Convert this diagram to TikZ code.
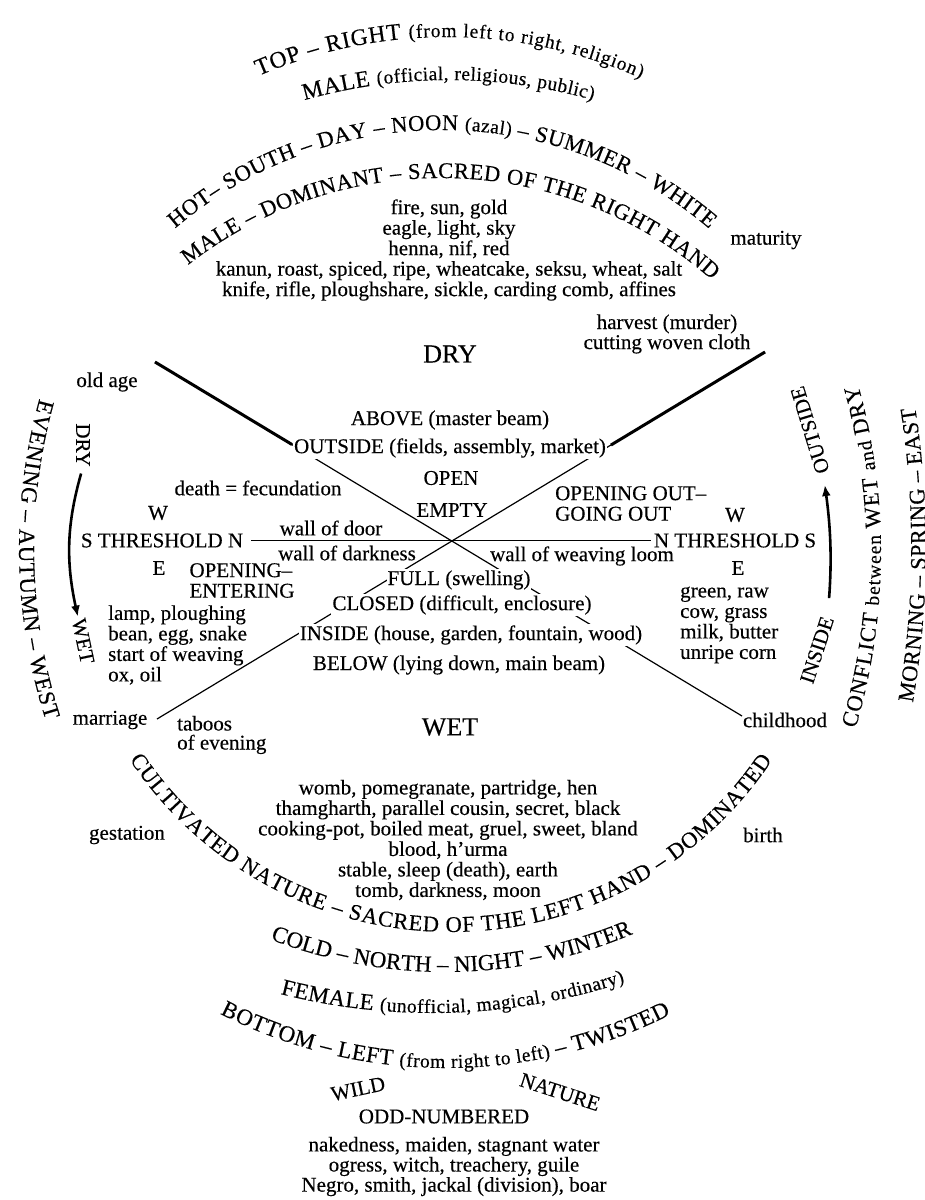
\documentclass[tikz,border=0pt]{standalone}
\usepackage{fontspec}
\setmainfont{Liberation Serif}[FakeBold=0.3]
\usetikzlibrary{decorations.text,arrows.meta}
\newcommand\txtfont{\fontsize{21}{20.5}\selectfont}
\newcommand\arcfont{\fontsize{22.5}{22.5}\selectfont}
\newcommand\midarc{\fontsize{23}{23}\selectfont}
\newcommand\toparc{\fontsize{23.5}{23.5}\selectfont}
\newcommand\smallarc{\fontsize{19.5}{19.5}\selectfont}
\newcommand\bigfont{\fontsize{26}{26}\selectfont}
\tikzstyle{txt}=[font=\txtfont, inner sep=0pt]
\tikzstyle{bigcap}=[font=\bigfont, inner sep=0pt]
\tikzstyle{whitebox}=[fill=white, inner sep=1pt]
\tikzstyle{beam}=[draw=black, line width=1.2pt]
\tikzstyle{beambold}=[draw=black, line width=3pt]
\tikzstyle{cyclearrow}=[draw=black, line width=2.6pt, -{Latex[length=11pt,width=9pt]}]
\tikzstyle{arctext}=[decorate, decoration={text along path, text align={fit to path}}]

\begin{document}
\begin{tikzpicture}[x=1pt, y=1pt]
	\useasboundingbox (0,0) rectangle (925,-1200);
	\fill[white] (0,0) rectangle (925,-1200);
	\path[arctext, decoration={text={|\toparc|TOP – RIGHT |\smallarc|(from left to right, religion)}}] ([shift={(447,-513)}]113.3:476) arc[start angle=113.3, end angle=66, radius=476];
	\path[arctext, decoration={text={|\toparc|MALE |\smallarc|(official, religious, public)}}] ([shift={(449,-608)}]105.9:528) arc[start angle=105.9, end angle=74.2, radius=528];
	\path[arctext, decoration={text={|\arcfont|HOT– SOUTH – DAY – NOON |\smallarc|(azal) |\arcfont|– SUMMER – WHITE}}] ([shift={(442,-541)}]130.5:411) arc[start angle=130.5, end angle=49.5, radius=411];
	\path[arctext, decoration={text={|\arcfont|MALE – DOMINANT – SACRED OF THE RIGHT HAND}}] ([shift={(441,-589)}]128:411) arc[start angle=128, end angle=48.8, radius=411];
	\path[arctext, decoration={text={|\arcfont|CULTIVATED NATURE – SACRED OF THE LEFT HAND – DOMINATED}}] ([shift={(451,-546)}]213.6:386) arc[start angle=213.6, end angle=326.3, radius=386];
	\path[arctext, decoration={text={|\midarc|COLD – NORTH – NIGHT – WINTER}}] ([shift={(445,-489)}]248.8:483) arc[start angle=248.8, end angle=292.6, radius=483];
	\path[arctext, decoration={text={|\midarc|FEMALE |\smallarc|(unofficial, magical, ordinary)}}] ([shift={(432,-399)}]255.7:614) arc[start angle=255.7, end angle=288.3, radius=614];
	\path[arctext, decoration={text={|\midarc|BOTTOM – LEFT |\smallarc|(from right to left) |\midarc|– TWISTED}}] ([shift={(446,-570)}]243:498) arc[start angle=243, end angle=296.8, radius=498];
	\path[arctext, decoration={text={|\midarc|EVENING – AUTUMN – WEST}}] ([shift={(582,-549)}]164.5:563) arc[start angle=164.5, end angle=197.7, radius=563];
	\path[arctext, decoration={text={|\arcfont|CONFLICT |\smallarc|between |\arcfont|WET |\smallarc|and |\arcfont|DRY}}] ([shift={(256,-552)}]-16.4:625) arc[start angle=-16.4, end angle=15.5, radius=625];
	\path[arctext, decoration={text={|\arcfont|MORNING – SPRING – EAST}}] ([shift={(7,-548)}]-9.7:919) arc[start angle=-9.7, end angle=8.8, radius=919];

	\coordinate (dTL) at (155,-362);
	\coordinate (dBR) at (742,-716);
	\coordinate (dTR) at (765,-352);
	\coordinate (dBL) at (157,-719);
	\coordinate (kTL) at (292,-444.5);
	\coordinate (kTR) at (611,-445);
	\path[beam] (dTL) -- (dBR);
	\path[beam] (dTR) -- (dBL);
	\path[beambold] (dTL) -- (kTL);
	\path[beambold] (dTR) -- (kTR);

	\node[txt, align=center] (dryList) at (449,-250) {fire, sun, gold\\eagle, light, sky\\henna, nif, red\\kanun, roast, spiced, ripe, wheatcake, seksu, wheat, salt\\knife, rifle, ploughshare, sickle, carding comb, affines};
	\node[txt] (maturity) at (766,-240) {maturity};
	\node[txt, align=center, font=\fontsize{21}{18}\selectfont] (harvest) at (667,-334) {harvest (murder)\\cutting woven cloth};
	\node[bigcap] (dryC) at (450,-354) {DRY};
	\node[txt] (oldAge) at (107,-382) {old age};
	\node[txt] (above) at (450,-420) {ABOVE (master beam)};
	\node[txt, whitebox] (outside) at (450,-448) {OUTSIDE (fields, assembly, market)};
	\node[txt] (open) at (451,-478) {OPEN};
	\node[txt] (empty) at (452,-510) {EMPTY};
	\node[txt] (death) at (258,-488) {death = fecundation};
	\node[txt] (wL) at (158,-513) {W};
	\node[txt, inner xsep=8pt] (thrL) at (162,-540.5) {S THRESHOLD N};
	\node[txt] (eL) at (159,-568) {E};
	\node[txt] (wallDoor) at (331,-528) {wall of door};
	\node[txt] (wallDark) at (347,-553) {wall of darkness};
	\node[txt, align=left] (entering) at (242,-580.5) {OPENING–\\ENTERING};
	\node[txt, align=left, anchor=west] (lampList) at (108,-645) {lamp, ploughing\\bean, egg, snake\\start of weaving\\ox, oil};
	\node[txt] (marriage) at (110,-720) {marriage};
	\node[txt, align=left, anchor=west, font=\fontsize{21}{19}\selectfont] (taboos) at (177,-735) {taboos\\of evening};
	\node[txt, whitebox] (full) at (459,-580) {FULL (swelling)};
	\node[txt, whitebox] (closed) at (462,-605) {CLOSED (difficult, enclosure)};
	\node[txt, whitebox] (insideC) at (471,-635) {INSIDE (house, garden, fountain, wood)};
	\node[txt] (below) at (459,-665) {BELOW (lying down, main beam)};
	\node[txt, align=left, anchor=west] (goingOut) at (555,-503.5) {OPENING OUT–\\GOING OUT};
	\node[txt] (wR) at (735,-515) {W};
	\node[txt, inner xsep=3pt] (thrR) at (735,-540.5) {N THRESHOLD S};
	\node[txt] (eR) at (738,-568) {E};
	\node[txt] (wallLoom) at (582,-556) {wall of weaving loom};
	\node[txt, align=left, anchor=west] (greenList) at (680,-625) {green, raw\\cow, grass\\milk, butter\\unripe corn};
	\node[txt] (childhood) at (785,-720) {childhood};
	\node[bigcap] (wetC) at (450,-727) {WET};
	\node[txt] (gestation) at (127,-835) {gestation};
	\node[txt] (birth) at (763,-835) {birth};
	\node[txt, align=center] (wetList) at (448,-840) {womb, pomegranate, partridge, hen\\thamgharth, parallel cousin, secret, black\\cooking-pot, boiled meat, gruel, sweet, bland\\blood, h’urma\\stable, sleep (death), earth\\tomb, darkness, moon};
	\node[txt, rotate=12] (wild) at (358,-1089) {WILD};
	\node[txt, rotate=-18] (wildNature) at (560,-1092) {NATURE};
	\node[txt] (odd) at (444,-1116.5) {ODD-NUMBERED};
	\node[txt, align=center, font=\fontsize{21}{18}\selectfont] (wildList) at (454,-1166.5) {nakedness, maiden, stagnant water\\ogress, witch, treachery, guile\\Negro, smith, jackal (division), boar};

	\node[txt, rotate=-90] (dryS) at (83,-445) {DRY};
	\node[txt, rotate=-78] (wetS) at (83,-641) {WET};
	\node[txt, rotate=107] (outsideS) at (810,-430) {OUTSIDE};
	\node[txt, rotate=72] (insideS) at (817,-650) {INSIDE};

	\path[beam] (thrL) -- (thrR);
	\path[cyclearrow, shorten <=7pt, shorten >=2pt] (dryS.east) to[bend right=14] (wetS.west);
	\path[cyclearrow, shorten <=19pt, shorten >=12pt] (insideS.east) to[bend right=6] (outsideS.west);
\end{tikzpicture}
\end{document}
